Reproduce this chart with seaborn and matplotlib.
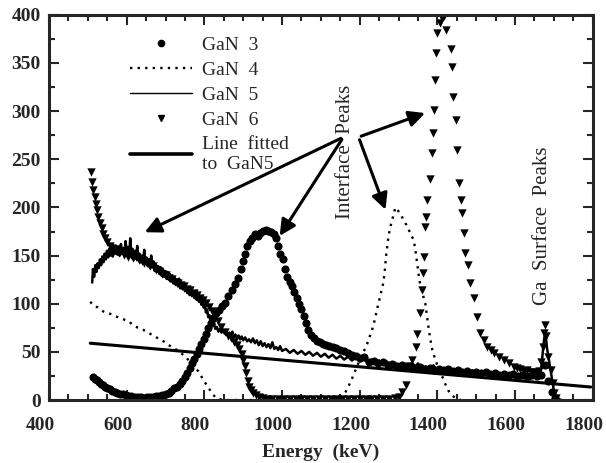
import numpy as np
import pandas as pd
import matplotlib
matplotlib.use("Agg")
import matplotlib.pyplot as plt
import matplotlib.transforms as mtransforms
from matplotlib.lines import Line2D
from matplotlib.ticker import MultipleLocator
import seaborn as sns

# ---- data (energy in keV, counts) ----
gan3_energy = [513, 518, 523, 528, 533, 538, 544, 550, 556, 562, 569, 576, 583, 590, 597, 604, 612, 620,
               628, 636, 644, 652, 660, 668, 676, 684, 692, 700, 708, 715, 722, 729, 736, 743, 750, 756,
               762, 768, 774, 780, 786, 792, 798, 804, 810, 816, 822, 830, 838, 846, 854, 862, 870, 878,
               886, 893, 899, 905, 911, 917, 923, 930, 937, 944, 951, 958, 965, 972, 979, 985, 990, 996,
               1002, 1008, 1014, 1020, 1026, 1032, 1038, 1044, 1050, 1056, 1062, 1068, 1075, 1082, 1090,
               1098, 1106, 1114, 1122, 1130, 1140, 1150, 1160, 1170, 1180, 1190, 1200, 1212, 1224, 1236,
               1248, 1260, 1272, 1284, 1296, 1308, 1320, 1332, 1344, 1356, 1368, 1380, 1392, 1404, 1416,
               1428, 1440, 1452, 1464, 1476, 1488, 1500, 1512, 1524, 1536, 1548, 1560, 1572, 1584, 1596,
               1608, 1620, 1632, 1644, 1656, 1666, 1676, 1686, 1696, 1704]
gan3_counts = [24, 22, 21, 19, 17, 16, 14, 12, 11, 9, 8, 7, 6, 6, 5, 4, 4, 3,
               3, 3, 2, 3, 3, 3, 4, 4, 5, 6, 7, 9, 12, 14, 17, 20, 24, 28,
               33, 38, 43, 48, 53, 58, 63, 69, 75, 80, 85, 90, 94, 98, 101, 108, 114, 120,
               127, 136, 144, 152, 160, 165, 168, 172, 170, 173, 176, 177, 176, 175, 172, 168, 160, 152,
               146, 136, 128, 123, 118, 112, 106, 100, 95, 87, 80, 73, 68, 64, 61,
               60, 58, 57, 56, 55, 54, 52, 51, 49, 47, 46, 44, 45, 40, 41,
               38, 39, 36, 37, 35, 36, 34, 35, 33, 34, 32, 33, 31, 32, 31,
               32, 30, 31, 29, 30, 28, 29, 28, 29, 27, 28, 26, 27, 26, 27,
               25, 26, 25, 26, 25, 26, 36, 20, 8, 2]

gan4_energy = [506, 515, 526, 535, 544, 553, 562, 570, 578, 590, 604, 616, 629, 642, 655, 668, 681, 690,
               699, 708, 717, 725, 733, 742, 751, 760, 769, 776, 784, 790, 796, 802, 808, 815, 822, 828,
               836, 860, 900, 950, 1000, 1050, 1100, 1140, 1155, 1163, 1172, 1180, 1188, 1195, 1203, 1210,
               1218, 1225, 1232, 1238, 1243, 1248, 1254, 1261, 1265, 1268, 1271, 1274, 1279, 1283, 1288,
               1292, 1298, 1305, 1313, 1320, 1326, 1333, 1339, 1343, 1346, 1350, 1353, 1357, 1361, 1365,
               1369, 1373, 1377, 1382, 1387, 1393, 1400, 1407, 1413, 1420, 1428, 1437, 1447, 1460]
gan4_counts = [102, 98, 96, 93, 91, 90, 89, 87, 86, 84, 82, 78, 75, 73, 70, 67, 64, 62,
               60, 57, 55, 53, 51, 48, 45, 41, 38, 34, 30, 26, 22, 18, 14, 10, 6, 3,
               1, 0, 0, 0, 0, 0, 0, 1, 4, 8, 15, 22, 30, 37, 43, 50,
               57, 65, 73, 82, 91, 100, 110, 122, 136, 150, 160, 170, 180, 186, 194,
               200, 197, 193, 187, 182, 177, 171, 166, 157, 148, 136, 126, 118, 112, 106,
               100, 88, 76, 63, 52, 44, 36, 29, 24, 17, 10, 5, 2, 0]

gan5_energy = [511, 513, 516, 519, 522, 525, 528, 531, 534, 537, 540, 543, 546, 549, 552, 555, 558, 561,
               564, 567, 570, 573, 576, 579, 582, 585, 588, 591, 594, 597, 600, 603, 606, 609, 612, 615,
               618, 621, 624, 627, 630, 633, 636, 639, 642, 645, 648, 651, 654, 657, 660, 663, 666, 669,
               672, 675, 678, 681, 684, 687, 690, 693, 696, 699, 702, 705, 708, 711, 714, 717, 720, 723,
               726, 729, 732, 735, 738, 741, 744, 747, 750, 753, 756, 759, 762, 765, 768, 771, 774, 777,
               780, 783, 786, 789, 792, 795, 798, 801, 804, 807, 810, 813, 816, 819, 822, 825, 828, 832,
               836, 840, 844, 848, 852, 856, 860, 864, 868, 872, 876, 880, 884, 888, 892, 896, 900, 905,
               910, 915, 920, 925, 930, 935, 940, 945, 950, 955, 960, 965, 970, 975, 980, 985, 990, 995,
               1000, 1010, 1020, 1030, 1040, 1050, 1060, 1070, 1080, 1090, 1100, 1110, 1120, 1130, 1140,
               1150, 1160, 1170, 1180, 1190, 1200, 1210, 1220, 1230, 1240, 1250, 1260, 1270, 1280, 1290,
               1300, 1310, 1320, 1330, 1340, 1350, 1360, 1370, 1380, 1390, 1400, 1410, 1420, 1430, 1440,
               1450, 1460, 1470, 1480, 1490, 1500, 1510, 1520, 1530, 1540, 1550, 1560, 1570, 1580, 1590,
               1600, 1610, 1620, 1630, 1640, 1650, 1660, 1668, 1674, 1678, 1682, 1688, 1694, 1700, 1706,
               1712, 1720]
gan5_counts = [122, 136, 128, 140, 133, 142, 137, 146, 140, 149, 143, 152, 146, 155, 148, 157, 150, 156,
               149, 158, 152, 160, 151, 157, 150, 162, 152, 158, 149, 165, 153, 159, 148, 168, 150, 157,
               146, 155, 147, 160, 145, 152, 143, 150, 141, 156, 142, 148, 139, 146, 137, 150, 138, 144,
               134, 141, 133, 139, 131, 138, 129, 136, 128, 134, 126, 133, 125, 131, 123, 129, 121, 127,
               120, 125, 118, 126, 116, 122, 115, 120, 113, 118, 111, 117, 109, 114, 108, 112, 106, 111,
               104, 108, 102, 106, 99, 103, 96, 99, 91, 94, 86, 88, 81, 84, 77, 79, 74, 76,
               71, 74, 70, 73, 69, 72, 68, 70, 66, 71, 65, 68, 64, 67, 63, 66, 62, 65,
               61, 63, 60, 64, 59, 62, 57, 61, 56, 59, 55, 58, 54, 60, 53, 55, 52, 56,
               51, 53, 49, 52, 48, 51, 47, 50, 46, 49, 45, 48, 44, 47, 43,
               46, 42, 45, 41, 44, 40, 43, 39, 42, 38, 41, 37, 40, 36, 39,
               35, 38, 34, 37, 33, 38, 32, 35, 31, 36, 30, 34, 29, 33, 28,
               32, 28, 31, 27, 31, 26, 30, 26, 29, 25, 29, 24, 28, 24, 27,
               23, 27, 23, 26, 22, 26, 23, 35, 60, 72, 55, 40, 25, 10, 3,
               1, 0]

gan6_energy = [508, 511, 514, 517, 520, 523, 527, 531, 535, 540, 545, 550, 556, 562, 568, 574, 580, 586,
               592, 598, 604, 610, 617, 624, 631, 638, 645, 652, 660, 668, 676, 684, 692, 700, 708, 716,
               724, 732, 740, 748, 756, 764, 772, 780, 788, 796, 804, 812, 820, 828, 836, 844, 852, 860,
               868, 876, 884, 890, 896, 900, 904, 908, 912, 916, 920, 926, 932, 940, 950, 960, 975, 990,
               1005, 1020, 1035, 1050, 1065, 1080, 1095, 1110, 1125, 1140, 1155, 1170, 1185, 1200, 1215,
               1230, 1245, 1260, 1275, 1290, 1300, 1310, 1318, 1326, 1335, 1344, 1348, 1356, 1360, 1363,
               1365, 1368, 1370, 1374, 1382, 1386, 1388, 1391, 1395, 1397, 1400, 1408, 1412, 1416, 1421,
               1434, 1438, 1441, 1447, 1451, 1455, 1460, 1464, 1468, 1472, 1478, 1485, 1494, 1502, 1511,
               1520, 1528, 1537, 1545, 1558, 1571, 1584, 1597, 1606, 1614, 1622, 1631, 1640, 1648, 1656,
               1663, 1668, 1671, 1674, 1677, 1681, 1686, 1692, 1697, 1701, 1706]
gan6_counts = [237, 226, 218, 211, 204, 197, 190, 184, 179, 172, 168, 164, 160, 158, 155, 157, 153, 155,
               151, 153, 149, 151, 147, 149, 145, 146, 142, 143, 139, 139, 135, 134, 131, 130, 127, 126,
               123, 122, 119, 118, 115, 114, 111, 109, 106, 104, 101, 97, 92, 87, 82, 76, 71, 67,
               64, 60, 57, 53, 48, 42, 35, 28, 20, 14, 10, 7, 5, 3, 2, 1, 1, 1,
               1, 1, 1, 1, 1, 1, 1, 1, 1, 1, 1, 1, 1, 1, 1,
               1, 1, 1, 1, 2, 3, 8, 16, 35, 42, 55, 69, 90, 114, 132,
               149, 180, 190, 208, 229, 256, 277, 301, 332, 360, 381, 392, 397, 399, 384,
               364, 346, 315, 291, 260, 225, 208, 194, 173, 153, 140, 122, 106, 86, 70,
               62, 55, 52, 49, 45, 42, 38, 34, 33, 32, 30, 31, 29, 29, 28,
               30, 40, 55, 70, 78, 66, 45, 31, 18, 7, 2]

fit_energy = [506, 1795]
fit_counts = [59, 13.5]

legend_labels = ["GaN  3", "GaN  4", "GaN  5", "GaN  6", "Line  fitted\nto  GaN5"]

sns.set_style("ticks")
plt.rcParams["font.family"] = ["Liberation Serif", "DejaVu Serif"]
plt.rcParams["font.size"] = 14

fig = plt.figure(figsize=(6.06, 4.63), dpi=100)
ax = fig.add_axes([0.081, 0.136, 0.897, 0.832])

sns.lineplot(x=fit_energy, y=fit_counts, ax=ax, color="black", lw=2.2,
             estimator=None, sort=False, legend=False)
sns.lineplot(x=gan4_energy, y=gan4_counts, ax=ax, color="black", lw=1.7,
             linestyle=(0, (1, 2.2)), estimator=None, sort=False, legend=False)
sns.lineplot(x=gan5_energy, y=gan5_counts, ax=ax, color="black", lw=1.8,
             estimator=None, sort=False, legend=False)
sns.scatterplot(x=gan3_energy, y=gan3_counts, ax=ax, color="black", marker="o",
                s=34, linewidth=0, legend=False)
sns.scatterplot(x=gan6_energy, y=gan6_counts, ax=ax, color="black", marker="v",
                s=36, linewidth=0, legend=False)

ax.set_xlim(400, 1800)
ax.set_ylim(0, 400)
ax.xaxis.set_major_locator(MultipleLocator(200))
ax.xaxis.set_minor_locator(MultipleLocator(50))
ax.yaxis.set_major_locator(MultipleLocator(50))
ax.yaxis.set_minor_locator(MultipleLocator(25))
ax.tick_params(which="both", direction="in", top=True, right=True, width=1.5, labelsize=14)
ax.tick_params(which="major", length=7)
ax.tick_params(which="minor", length=4)
ax.tick_params(axis="x", pad=12)
ax.tick_params(axis="y", pad=6)
for lab in ax.get_xticklabels() + ax.get_yticklabels():
    lab.set_fontweight("bold")
# the printed x labels sit a little left of their ticks
shift = mtransforms.ScaledTranslation(-9 / 100, 0, fig.dpi_scale_trans)
for lab in ax.get_xticklabels():
    lab.set_transform(lab.get_transform() + shift)
for sp in ax.spines.values():
    sp.set_linewidth(2.2)
    sp.set_visible(True)
ax.set_xlabel("Energy  (keV)", fontsize=14, fontweight="bold", labelpad=7)
ax.set_ylabel("")

# arrows from the "Interface Peaks" label
for start, tip in [((1158, 273), (640, 173)), ((1158, 273), (990, 168)),
                   ((1197, 273), (1269, 195)), ((1197, 273), (1375, 299))]:
    ax.annotate("", xy=tip, xytext=start,
                arrowprops=dict(arrowstyle="-|>", color="black", lw=2.2, mutation_scale=24))
ax.text(1163, 258, "Interface  Peaks", rotation=90, ha="center", va="center", fontsize=15)
ax.text(1671, 181, "Ga  Surface  Peaks", rotation=90, ha="center", va="center", fontsize=15)

handles = [
    Line2D([], [], color="black", marker="o", ms=4.5, linestyle="none"),
    Line2D([], [], color="black", lw=1.7, linestyle=(0, (1, 2.2))),
    Line2D([], [], color="black", lw=1.0),
    Line2D([], [], color="black", marker="v", ms=5, linestyle="none"),
    Line2D([], [], color="black", lw=2.6),
]
ax.legend(handles, legend_labels, loc="upper left", bbox_to_anchor=(0.117, 0.99),
          frameon=False, fontsize=14, handlelength=3.2, handletextpad=0.5,
          labelspacing=0.38)

fig.savefig("out.png", dpi=100)
